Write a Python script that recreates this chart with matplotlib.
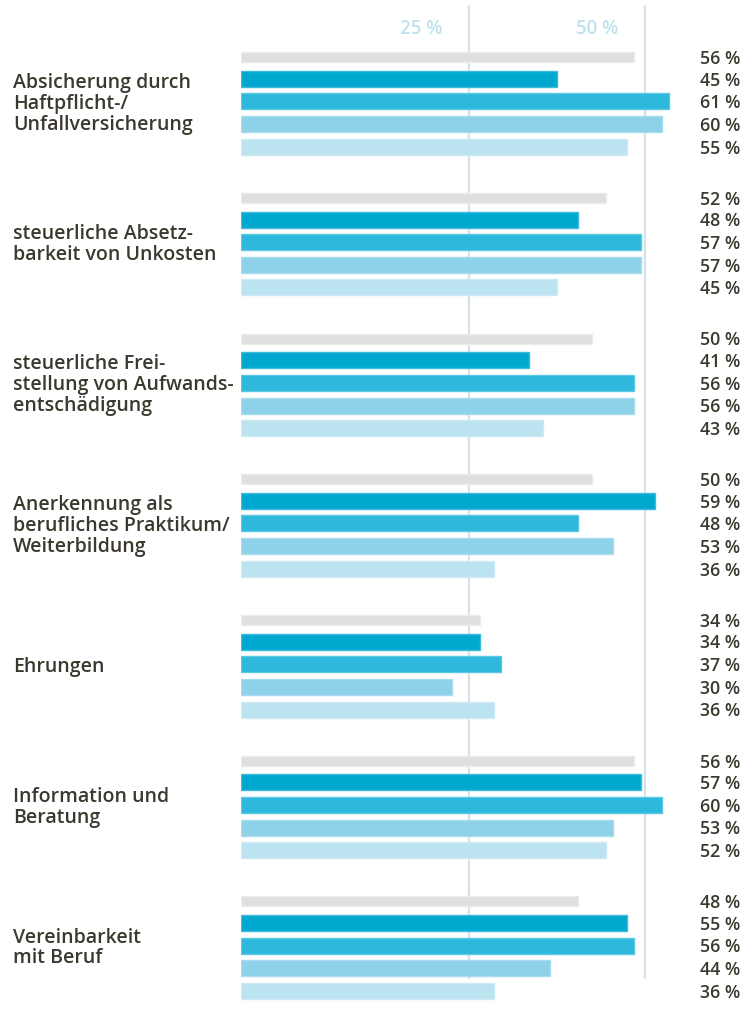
import matplotlib
matplotlib.use("Agg")
import matplotlib.pyplot as plt
import matplotlib.transforms as mtransforms

# ---- data ----
categories = [
    "Absicherung durch\nHaftpflicht-/\nUnfallversicherung",
    "steuerliche Absetz-\nbarkeit von Unkosten",
    "steuerliche Frei-\nstellung von Aufwands-\nentschädigung",
    "Anerkennung als\nberufliches Praktikum/\nWeiterbildung",
    "Ehrungen",
    "Information und\nBeratung",
    "Vereinbarkeit\nmit Beruf",
]
series_total = [56, 52, 50, 50, 34, 56, 48]
series_a = [45, 48, 41, 59, 34, 57, 55]
series_b = [61, 57, 56, 48, 37, 60, 56]
series_c = [60, 57, 56, 53, 30, 53, 44]
series_d = [55, 45, 43, 36, 36, 52, 36]
tick_values = [25, 50]
tick_labels = ["25 %", "50 %"]
grid_values = [32.5, 57.5]

series = [series_total, series_a, series_b, series_c, series_d]
colors = ["#dfdfdd", "#00a8d0", "#2db8dc", "#8dd2e8", "#bce3f0"]
edges = ["#ececea", "#3fbcdc", "#5cc8e4", "#a8dcee", "#cfeaf5"]
heights = [10, 16, 16, 16, 16]
offsets = [0, 21.6, 44.1, 67.0, 89.5]

W, H = 745, 1030
fig = plt.figure(figsize=(W / 100, H / 100), dpi=100)
fig.patch.set_facecolor("white")
px_per_pct = 7.02
x0 = 241
ax = fig.add_axes([x0 / W, 0, 1 - x0 / W, 1])
ax.set_xlim(0, (W - x0) / px_per_pct)
ax.set_ylim(H, 0)
ax.axis("off")

group_start = 57.2
group_pitch = 140.7
text_color = "#3b392e"
font = "Open Sans"

ax.vlines(grid_values, 5, 979, color="#d6e2ea", linewidth=1.6, zorder=0)

for i, (lab, tv) in enumerate(zip(tick_labels, tick_values)):
    ax.text(tv + 0.7, 29, lab, ha="center", va="center", fontsize=13.5,
            color="#bfe2ef", fontweight="semibold", family=font)

trans_fig_x = mtransforms.blended_transform_factory(fig.transFigure, ax.transData)

for g, cat in enumerate(categories):
    base = group_start + g * group_pitch
    for s in range(5):
        y = base + offsets[s]
        v = series[s][g]
        ax.barh(y, v, height=heights[s], color=colors[s], edgecolor=edges[s],
                linewidth=1.0, zorder=2)
        ax.text(740 / W, y + 1.8, f"{v} %", transform=trans_fig_x, ha="right",
                va="center", fontsize=12.8, color=text_color,
                fontweight="semibold", family=font)
    ax.text(13 / W, base + offsets[2] + 2.5, cat, transform=trans_fig_x,
            ha="left", va="center", fontsize=14, color=text_color,
            fontweight="semibold", family=font, linespacing=1.06)

fig.savefig("out.png", dpi=100, facecolor="white")
